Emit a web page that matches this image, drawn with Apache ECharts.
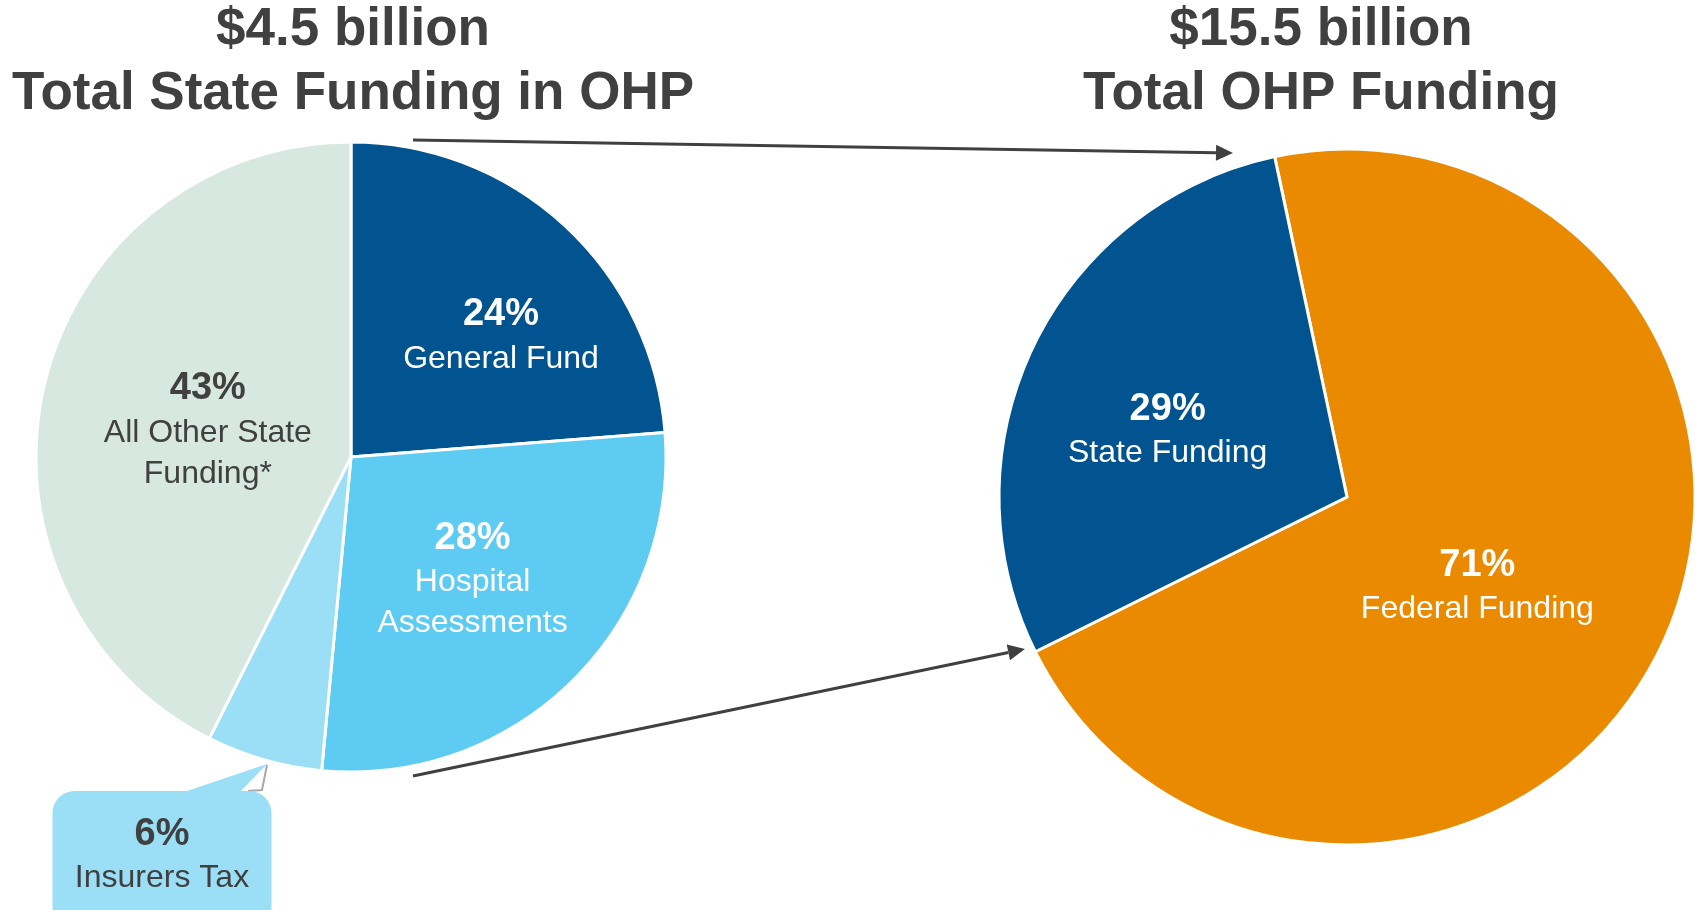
<!DOCTYPE html>
<html>
<head>
<meta charset="utf-8">
<style>
    html, body { margin: 0; padding: 0; background: #ffffff; }
    #chart { width: 1704px; height: 910px; }
</style>
<script src="https://cdn.jsdelivr.net/npm/echarts@6/dist/echarts.min.js"></script>
</head>
<body>
<div id="chart"></div>
<script>
// left pie: where the state money comes from
const stateNames = ['General Fund', 'Hospital\nAssessments', 'Insurers Tax', 'All Other State\nFunding*'];
const stateValues = [24, 28, 6, 43];
const stateColors = ['#01548F', '#5DCBF2', '#9BDFF7', '#D6E8E0'];
const stateLabelColors = ['#FFFFFF', '#FFFFFF', '#404040', '#404040'];

// right pie: total OHP funding
const totalNames = ['Federal Funding', 'State Funding'];
const totalValues = [71, 29];
const totalColors = ['#E98A00', '#01548F'];

const leftTitle = ['$4.5 billion', 'Total State Funding in OHP'];
const rightTitle = ['$15.5 billion', 'Total OHP Funding'];

const TEXT = '#404040';
const FONT = '"Liberation Sans", Arial, sans-serif';

// small label nudges (px) so labels sit where the original put them
const leftNudge = [[41, -4], [9, 8], [0, 0], [13, 10]];
const rightNudge = [[-29, 12], [-20, 10]];

function richLabel(color) {
    return {
        p: { fontFamily: FONT, fontWeight: 'bold', fontSize: 38, lineHeight: 47, color: color },
        n: { fontFamily: FONT, fontSize: 32, lineHeight: 41, color: color }
    };
}

function pieData(names, values, colors, labelColors) {
    return values.map((v, i) => ({
        name: names[i],
        value: v,
        itemStyle: { color: colors[i] },
        label: { rich: richLabel(labelColors ? labelColors[i] : '#FFFFFF') }
    }));
}

const leftData = pieData(stateNames, stateValues, stateColors, stateLabelColors);
// insurers tax gets a callout box under the pie
leftData[2].label = {
    rich: richLabel(TEXT),
    backgroundColor: '#9BDFF7',
    borderRadius: 22,
    width: 219,
    padding: [20, 0, 30, 0]
};

function titleText(lines, x) {
    return [
        { type: 'text', x: x, y: 30, style: { text: lines[0], font: 'bold 53px ' + FONT, fill: TEXT, align: 'center', verticalAlign: 'middle' } },
        { type: 'text', x: x, y: 94, style: { text: lines[1], font: 'bold 53px ' + FONT, fill: TEXT, align: 'center', verticalAlign: 'middle' } }
    ];
}

function arrow(x1, y1, x2, y2) {
    const a = Math.atan2(y2 - y1, x2 - x1);
    const len = 17;
    const half = 8;
    const bx = x2 - len * Math.cos(a);
    const by = y2 - len * Math.sin(a);
    return [
        { type: 'line', shape: { x1: x1, y1: y1, x2: bx, y2: by }, style: { stroke: TEXT, lineWidth: 3 } },
        {
            type: 'polygon',
            shape: { points: [[x2, y2], [bx - half * Math.sin(a), by + half * Math.cos(a)], [bx + half * Math.sin(a), by - half * Math.cos(a)]] },
            style: { fill: TEXT }
        }
    ];
}

const labelFormatter = p => '{p|' + p.value + '%}\n{n|' + p.name + '}';

const myChart = echarts.init(document.getElementById('chart'));
const option = {
    animation: false,
    backgroundColor: '#FFFFFF',
    graphic: [
        ...titleText(leftTitle, 353),
        ...titleText(rightTitle, 1321),
        ...arrow(413, 140, 1233, 153),
        ...arrow(413, 776, 1025, 649),
        // callout pointer
        { type: 'polygon', z: 0, shape: { points: [[178, 794], [238, 794], [267, 764]] }, style: { fill: '#9BDFF7' } },
        { type: 'polyline', shape: { points: [[267, 765], [262, 790], [248, 791]] }, style: { stroke: '#A8A8A8', lineWidth: 2 } }
    ],
    series: [
        {
            type: 'pie',
            center: [351, 457],
            radius: 315,
            startAngle: 90,
            clockwise: true,
            z: 2,
            itemStyle: { borderColor: '#FFFFFF', borderWidth: 3 },
            label: { show: true, position: 'inside', align: 'center', formatter: labelFormatter },
            labelLine: { show: false },
            labelLayout: function (params) {
                const d = leftNudge[params.dataIndex];
                if (params.dataIndex === 2) {
                    return { x: 162, y: 860 };
                }
                return { dx: d[0], dy: d[1] };
            },
            emphasis: { disabled: true },
            data: leftData
        },
        {
            type: 'pie',
            center: [1347, 497],
            radius: 348,
            startAngle: 102,
            clockwise: true,
            itemStyle: { borderColor: '#FFFFFF', borderWidth: 3 },
            label: { show: true, position: 'inside', align: 'center', formatter: labelFormatter },
            labelLine: { show: false },
            labelLayout: function (params) {
                const d = rightNudge[params.dataIndex];
                return { dx: d[0], dy: d[1] };
            },
            emphasis: { disabled: true },
            data: pieData(totalNames, totalValues, totalColors)
        }
    ]
};
myChart.setOption(option);
</script>
</body>
</html>
